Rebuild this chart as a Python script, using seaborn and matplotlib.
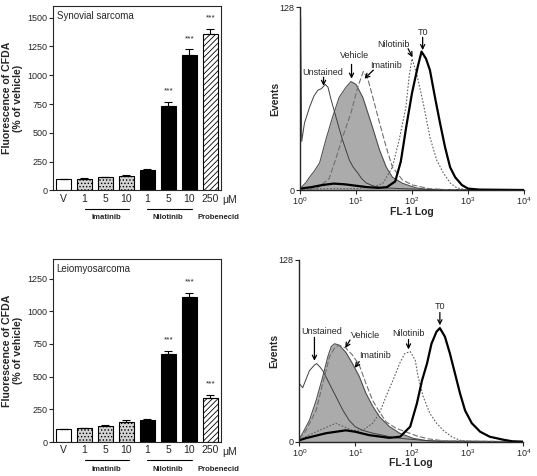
import numpy as np
import pandas as pd
import matplotlib
matplotlib.use('Agg')
import matplotlib.pyplot as plt
import seaborn as sns

sns.set_style('ticks')
plt.rcParams['font.family'] = ['Liberation Sans', 'DejaVu Sans']
plt.rcParams['mathtext.fontset'] = 'custom'
plt.rcParams['mathtext.rm'] = 'Liberation Sans'
plt.rcParams['mathtext.it'] = 'Liberation Sans:italic'
plt.rcParams['hatch.linewidth'] = 0.6

# ---- bar chart data ----
bar_labels = ['V', '1', '5', '10', '1', '5', '10', '250']
bar_groups = ['vehicle', 'imatinib', 'imatinib', 'imatinib',
              'nilotinib', 'nilotinib', 'nilotinib', 'probenecid']
syn_mean = [98, 104, 113, 127, 179, 736, 1178, 1355]
syn_err = [0, 4, 4, 5, 6, 28, 45, 42]
syn_stars = ['', '', '', '', '', '***', '***', '***']
leio_mean = [97, 104, 124, 155, 168, 671, 1110, 340]
leio_err = [0, 3, 6, 14, 8, 24, 33, 21]
leio_stars = ['', '', '', '', '', '***', '***', '***']

# ---- flow cytometry histograms (x in decades of FL-1, y = events) ----
# synovial sarcoma
unst_top_u = [0.0, 0.012, 0.03, 0.08, 0.17, 0.25, 0.32, 0.38, 0.45, 0.5, 0.55, 0.6, 0.65, 0.7,
              0.76, 0.82, 0.88, 0.95, 1.03, 1.1, 1.18, 1.27, 1.35, 1.5, 1.8, 2.2, 4.0]
unst_top_c = [0, 121, 34, 47, 58, 66, 70, 71, 74, 72, 64, 57, 50, 43,
              35, 28, 21, 16, 12, 8, 5, 3.5, 2.3, 1.5, 1, 0.5, 0]
veh_top_u = [0.0, 0.1, 0.17, 0.25, 0.35, 0.46, 0.58, 0.7, 0.82, 0.91, 1.0, 1.12, 1.27,
             1.42, 1.54, 1.65, 1.83, 2.07, 2.3, 4.0]
veh_top_c = [1, 5, 9, 13, 19, 35, 51, 65, 72, 76, 74, 65, 47,
             28, 16, 9, 4.7, 1.5, 0.3, 0]
ima_top_u = [0.0, 0.3, 0.52, 0.64, 0.76, 0.91, 1.03, 1.13, 1.21, 1.3, 1.42, 1.54, 1.65,
             1.83, 2.01, 2.3, 2.6, 4.0]
ima_top_c = [0.5, 1, 8, 22, 37, 54, 72, 83, 78, 65, 47, 30, 16,
             7, 3.5, 1, 0.3, 0]
nil_top_u = [0.0, 0.5, 1.0, 1.3, 1.48, 1.65, 1.77, 1.89, 1.95, 2.0, 2.08, 2.2, 2.32,
             2.44, 2.56, 2.68, 2.8, 2.95, 4.0]
nil_top_c = [0.5, 1, 1, 2, 4.7, 16, 35, 58, 80, 92, 82, 61, 37,
             21, 12, 5, 1.5, 0.3, 0]
t0_top_u = [0.0, 0.2, 0.4, 0.6, 0.8, 1.0, 1.2, 1.4, 1.55, 1.7, 1.8, 1.9, 2.0, 2.1, 2.17,
            2.25, 2.32, 2.41, 2.5, 2.59, 2.68, 2.77, 2.89, 3.0, 3.2, 4.0]
t0_top_c = [1, 2, 3.5, 4.5, 4, 3, 2, 1.5, 2, 6, 20, 45, 68, 86, 97,
            92, 84, 65, 47, 30, 16, 9, 3.5, 1, 0.3, 0]

# leiomyosarcoma
unst_bot_u = [0.0, 0.06, 0.12, 0.18, 0.27, 0.31, 0.36, 0.42, 0.51, 0.6, 0.69, 0.78, 0.89,
              1.0, 1.13, 1.31, 1.49, 1.67, 1.9, 2.2, 2.5, 4.0]
unst_bot_c = [41, 38, 44, 50, 54, 55, 53, 50, 43, 36, 29, 22, 15,
              10.5, 8, 6, 4.6, 3, 2, 1, 0.3, 0]
veh_bot_u = [0.0, 0.06, 0.18, 0.3, 0.42, 0.51, 0.57, 0.63, 0.71, 0.83, 0.95, 1.07, 1.19,
             1.31, 1.43, 1.61, 1.79, 2.03, 2.3, 4.0]
veh_bot_c = [2, 6, 15, 29, 46, 60, 67, 69, 68, 63, 55, 46, 34,
             25, 17.6, 10.6, 6, 2.4, 0.5, 0]
ima_bot_u = [0.0, 0.12, 0.3, 0.45, 0.54, 0.63, 0.71, 0.83, 0.95, 1.07, 1.19, 1.31, 1.43,
             1.55, 1.73, 1.9, 2.1, 2.3, 2.6, 4.0]
ima_bot_c = [2, 8, 22, 46, 60, 66, 68, 66, 61, 54, 41, 29, 21,
             14, 9.4, 7, 4, 2, 0.5, 0]
nil_bot_u = [0.0, 0.06, 0.3, 0.54, 0.65, 0.77, 0.95, 1.13, 1.31, 1.43, 1.55, 1.67, 1.79,
             1.88, 1.98, 2.07, 2.12, 2.21, 2.33, 2.45, 2.57, 2.72, 2.87, 3.0, 4.0]
nil_bot_c = [1, 2.5, 7, 11, 13, 11, 8, 8, 13, 20, 32, 43, 55,
             62, 63.5, 57.5, 46, 32, 20, 13, 8, 3.5, 1, 0.3, 0]
t0_bot_u = [0.0, 0.12, 0.48, 0.83, 1.0, 1.25, 1.61, 1.8, 1.98, 2.1, 2.19, 2.28, 2.36,
            2.45, 2.51, 2.6, 2.69, 2.78, 2.87, 2.96, 3.08, 3.23, 3.4, 3.64, 3.8, 4.0]
t0_bot_c = [1, 2.5, 6, 8, 7, 4.6, 2.7, 3.5, 10.6, 27, 43, 55, 69,
            77.5, 80, 74, 62, 48, 34, 22, 13, 7, 3.5, 1.4, 0.3, 0]

bar_styles = {
    'vehicle': dict(facecolor='white', hatch=None),
    'imatinib': dict(facecolor='#d4d4d4', hatch='.....'),
    'nilotinib': dict(facecolor='black', hatch=None),
    'probenecid': dict(facecolor='white', hatch='//////'),
}


def bar_panel(ax, means, errs, stars, title, ymax, yticks):
    pos = list(range(len(means)))
    sns.barplot(x=pos, y=means, ax=ax, width=0.68, color='white',
                edgecolor='black', linewidth=0.8)
    for patch, grp in zip(ax.patches, bar_groups):
        st = bar_styles[grp]
        patch.set_facecolor(st['facecolor'])
        patch.set_edgecolor('black')
        if st['hatch']:
            patch.set_hatch(st['hatch'])
    ax.errorbar(pos, means, yerr=[np.zeros(len(errs)), errs], fmt='none',
                ecolor='black', elinewidth=0.8, capsize=3, capthick=0.8)
    for i, s in enumerate(stars):
        if s:
            ax.text(i, means[i] + errs[i] + 0.06 * ymax, s, ha='center',
                    va='center', fontsize=6)
    ax.set_xlim(-0.5, 7.5)
    ax.set_ylim(0, ymax)
    ax.set_yticks(yticks)
    ax.set_xticks(pos)
    ax.set_xticklabels(bar_labels, fontsize=7.5)
    ax.tick_params(axis='x', length=0, pad=2.5)
    ax.tick_params(axis='y', length=3, width=0.8, labelsize=6.5, pad=1)
    for sp in ax.spines.values():
        sp.set_visible(True)
        sp.set_linewidth(0.8)
    ax.set_ylabel('Fluorescence of CFDA\n(% of vehicle)', fontsize=7.6,
                  fontweight='bold', linespacing=1.1)
    ax.yaxis.set_label_coords(-0.18, 0.5)
    ax.text(0.022, 0.945, title, transform=ax.transAxes, ha='left', va='center',
            fontsize=7)
    tr = ax.get_xaxis_transform()
    ax.text(7.93, -0.052, 'μM', transform=tr, ha='center', va='center',
            fontsize=7.5, clip_on=False)
    ax.plot([1.02, 3.13], [-0.098, -0.098], transform=tr, color='black', lw=0.8,
            clip_on=False)
    ax.plot([4.0, 6.1], [-0.098, -0.098], transform=tr, color='black', lw=0.8,
            clip_on=False)
    for xx, name in [(2.06, 'Imatinib'), (4.95, 'Nilotinib'), (7.38, 'Probenecid')]:
        ax.text(xx, -0.148, name, transform=tr, ha='center', va='center',
                fontsize=5.6, fontweight='bold', clip_on=False)


def hist_panel(ax, curves, vehicle, notes):
    vu, vc = vehicle
    vx = 10 ** np.array(vu)
    ax.fill_between(vx, vc, 0, color='#ababab', linewidth=0)
    sns.lineplot(x=vx, y=vc, ax=ax, color='#505050', linewidth=0.8)
    for u, c, col, lw, ls in curves:
        sns.lineplot(x=10 ** np.array(u), y=c, ax=ax, color=col, linewidth=lw,
                     linestyle=ls)
    ax.set_xscale('log')
    ax.set_xlim(1, 1e4)
    ax.set_ylim(0, 128)
    ax.set_xticks([1, 10, 100, 1000, 10000])
    ax.set_xticklabels(['$10^0$', '$10^1$', '$10^2$', '$10^3$', '$10^4$'])
    ax.minorticks_off()
    ax.set_yticks([0, 128])
    ax.tick_params(length=3, width=0.8, labelsize=6.5, pad=1)
    sns.despine(ax=ax)
    for sp in ['left', 'bottom']:
        ax.spines[sp].set_linewidth(1.0)
    ax.set_ylabel('Events', fontsize=7.5, fontweight='bold')
    ax.yaxis.set_label_coords(-0.09, 0.5)
    ax.set_xlabel('FL-1 Log', fontsize=7.5, fontweight='bold')
    ax.xaxis.set_label_coords(0.5, -0.092)
    for text, tu, tc, (u0, c0), (u1, c1) in notes:
        ax.text(10 ** tu, tc, text, ha='center', va='center', fontsize=6.5)
        ax.annotate('', xy=(10 ** u1, c1), xytext=(10 ** u0, c0),
                    arrowprops=dict(arrowstyle='->,head_length=0.3,head_width=0.15',
                                    lw=0.9, color='black', shrinkA=0, shrinkB=0))


fig = plt.figure(figsize=(5.37, 4.76), dpi=100)
ax_bar_top = fig.add_axes([0.0987, 0.5998, 0.3128, 0.3876])
ax_bar_bot = fig.add_axes([0.0987, 0.0714, 0.3128, 0.3845])
ax_h_top = fig.add_axes([0.5587, 0.6008, 0.4171, 0.3838])
ax_h_bot = fig.add_axes([0.5574, 0.0721, 0.4171, 0.3817])

bar_panel(ax_bar_top, syn_mean, syn_err, syn_stars, 'Synovial sarcoma', 1600,
          [0, 250, 500, 750, 1000, 1250, 1500])
bar_panel(ax_bar_bot, leio_mean, leio_err, leio_stars, 'Leiomyosarcoma', 1400,
          [0, 250, 500, 750, 1000, 1250])

hist_panel(ax_h_top,
           [(unst_top_u, unst_top_c, '#404040', 0.7, '-'),
            (ima_top_u, ima_top_c, '#707070', 0.8, (0, (5, 2))),
            (nil_top_u, nil_top_c, '#606060', 0.8, (0, (1.5, 1.5))),
            (t0_top_u, t0_top_c, 'black', 1.6, '-')],
           (veh_top_u, veh_top_c),
           [('Unstained', 0.41, 82.5, (0.42, 79), (0.42, 73)),
            ('Vehicle', 0.98, 94, (0.92, 88), (0.92, 78)),
            ('Imatinib', 1.53, 87, (1.31, 84), (1.15, 78)),
            ('Nilotinib', 1.67, 102, (1.93, 99), (2.01, 93)),
            ('T0', 2.19, 110.5, (2.19, 107), (2.19, 98))])

hist_panel(ax_h_bot,
           [(unst_bot_u, unst_bot_c, '#404040', 0.7, '-'),
            (ima_bot_u, ima_bot_c, '#707070', 0.8, (0, (5, 2))),
            (nil_bot_u, nil_bot_c, '#606060', 0.8, (0, (1.5, 1.5))),
            (t0_bot_u, t0_bot_c, 'black', 1.6, '-')],
           (veh_bot_u, veh_bot_c),
           [('Unstained', 0.40, 77.5, (0.27, 73.5), (0.27, 57)),
            ('Vehicle', 1.18, 75, (0.905, 71.6), (0.82, 66)),
            ('Imatinib', 1.35, 61, (1.07, 56.4), (0.99, 52)),
            ('Nilotinib', 1.94, 76.4, (1.95, 72), (1.95, 65)),
            ('T0', 2.51, 95, (2.51, 91), (2.51, 82))])

fig.savefig('out.png', dpi=100)
